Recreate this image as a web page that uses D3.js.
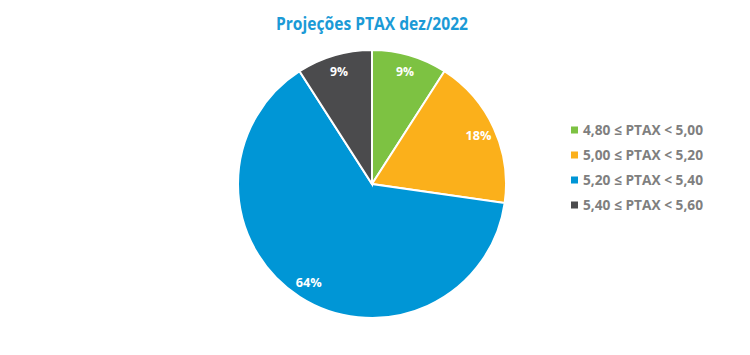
<!DOCTYPE html>
<html>
<head>
<meta charset="utf-8">
<script src="https://cdn.jsdelivr.net/npm/d3@7"></script>
<style>
  body { margin: 0; background: #fff; }
  svg { font-family: "Open Sans", "Liberation Sans", sans-serif; }
</style>
</head>
<body>
<svg width="750" height="355"></svg>
<script>
// faixas de PTAX e numero de respostas (1/11, 2/11, 7/11, 1/11)
var categories = ["4,80 ≤ PTAX < 5,00", "5,00 ≤ PTAX < 5,20", "5,20 ≤ PTAX < 5,40", "5,40 ≤ PTAX < 5,60"];
var counts = [1, 2, 7, 1];
var colors = ["#7dc242", "#fbb01b", "#0096d6", "#4b4b4d"];

var width = 750, height = 355;
var cx = 372, cy = 184, radius = 134;

var svg = d3.select("svg");

svg.append("text")
    .attr("x", 372).attr("y", 30)
    .attr("text-anchor", "middle")
    .style("font-size", "18px").style("font-weight", "bold")
    .style("fill", "#1b9ad6")
    .attr("textLength", 192).attr("lengthAdjust", "spacingAndGlyphs")
    .text("Projeções PTAX dez/2022");

var data = categories.map(function(c, i) { return {cat: c, n: counts[i], color: colors[i]}; });
var total = d3.sum(counts);

var pie = d3.pie().sort(null).value(function(d) { return d.n; });
var arc = d3.arc().innerRadius(0).outerRadius(radius);
var labelArc = d3.arc().innerRadius(117).outerRadius(117);

var g = svg.append("g").attr("transform", "translate(" + cx + "," + cy + ")");

var slices = g.selectAll(".slice")
    .data(pie(data))
    .enter().append("g")
    .attr("class", "slice");

slices.append("path")
    .attr("d", arc)
    .style("fill", function(d) { return d.data.color; })
    .style("stroke", "#fff")
    .style("stroke-width", 2);

slices.append("text")
    .attr("transform", function(d) { return "translate(" + labelArc.centroid(d) + ")"; })
    .attr("dy", "0.35em")
    .attr("text-anchor", "middle")
    .style("font-size", "13px").style("font-weight", "bold")
    .style("fill", "#fff")
    .attr("textLength", function(d) { return d.data.n / total > 0.1 ? 26 : 18; })
    .attr("lengthAdjust", "spacingAndGlyphs")
    .text(function(d) { return Math.round(d.data.n / total * 100) + "%"; });

//legenda
var legend = svg.append("g").attr("transform", "translate(571,130)");
var item = legend.selectAll(".item")
    .data(data)
    .enter().append("g")
    .attr("class", "item")
    .attr("transform", function(d, i) { return "translate(0," + i * 25 + ")"; });

item.append("rect")
    .attr("x", 0).attr("y", -3.5)
    .attr("width", 7).attr("height", 7)
    .style("fill", function(d) { return d.color; });

item.append("text")
    .attr("x", 12).attr("dy", "0.36em")
    .style("font-size", "14px").style("font-weight", "bold")
    .style("fill", "#7f7f7f")
    .attr("textLength", 120).attr("lengthAdjust", "spacingAndGlyphs")
    .text(function(d) { return d.cat; });
</script>
</body>
</html>
